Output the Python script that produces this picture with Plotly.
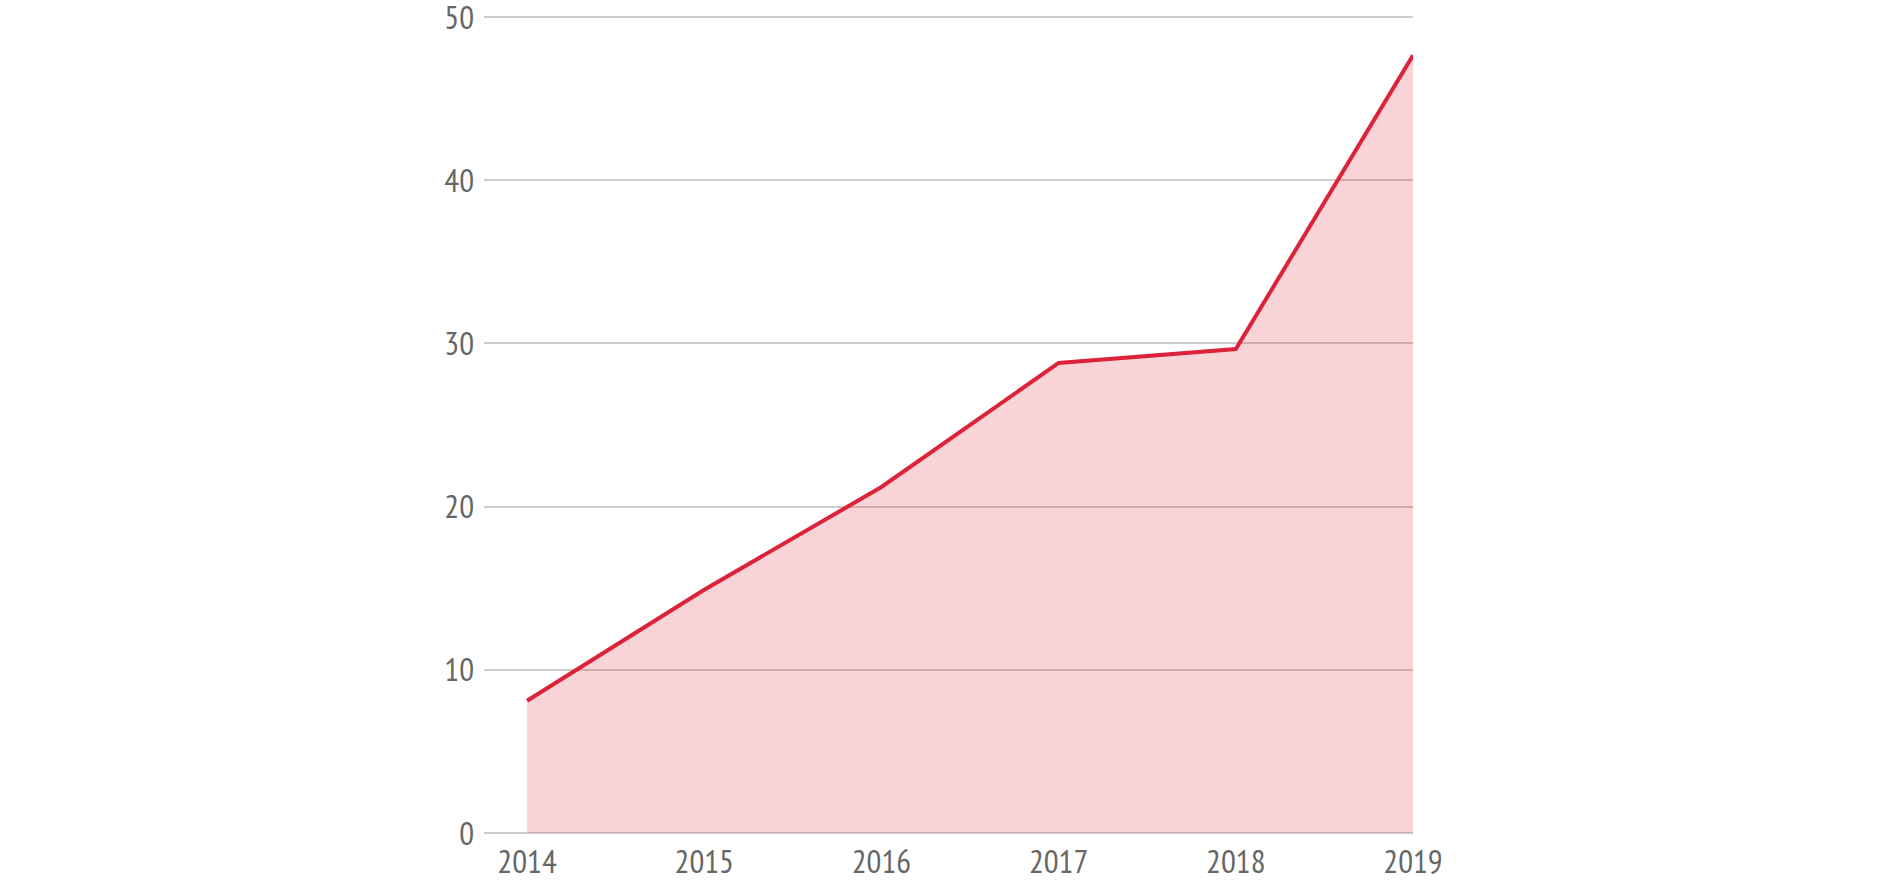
import plotly.graph_objects as go

years = [2014, 2015, 2016, 2017, 2018, 2019]
values = [8.1, 14.9, 21.2, 28.8, 29.65, 47.65]
y_ticks = [0, 10, 20, 30, 40, 50]

tick_font = dict(family="PT Sans Narrow, Roboto Condensed, sans-serif", size=33, color="#666666")

fig = go.Figure()
fig.add_trace(go.Scatter(
    x=years, y=values, mode="lines", fill="tozeroy",
    line=dict(color="#dc2339", width=4),
    fillcolor="rgba(220,35,57,0.2)",
    hoverinfo="x+y", showlegend=False,
))

fig.update_layout(
    width=1891, height=884,
    margin=dict(l=484, r=478, t=15, b=51, autoexpand=False),
    paper_bgcolor="white", plot_bgcolor="white",
    font=tick_font,
)
fig.update_xaxes(
    type="linear",
    range=[2013.757, 2019], tickvals=years, ticktext=[str(y) for y in years],
    showgrid=False, zeroline=False, showline=False, ticks="",
    automargin=False, tickfont=tick_font, ticklabeloverflow="allow",
    ticklabelstandoff=6,
)
fig.update_yaxes(
    type="linear",
    range=[0, 50.12], tickvals=y_ticks, showgrid=True, gridcolor="#cccccc", gridwidth=2,
    zeroline=True, zerolinecolor="#cccccc", zerolinewidth=2,
    showline=False, ticks="", automargin=False, tickfont=tick_font,
    ticklabeloverflow="allow", ticklabelstandoff=9,
)
fig.write_html("out.html", config={"displayModeBar": False},
               post_script="document.body.style.margin='0';document.body.style.overflow='hidden';")
